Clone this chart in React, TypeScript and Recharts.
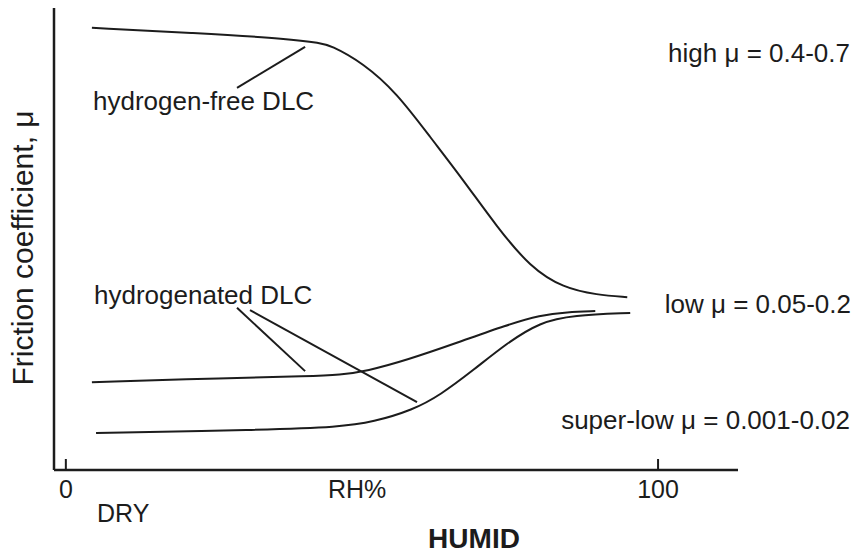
import React from 'react';
import { LineChart, Line, XAxis, YAxis, ReferenceLine } from 'recharts';

// Friction coefficient vs relative humidity (schematic, arbitrary μ scale 0-100)
const hFreeRH = [4.4, 21.5, 38.3, 42.9, 44.6, 50.2, 55.9, 61.5, 67.1, 72.8, 78.4, 84.0, 89.7, 94.8];
const hFreeMu = [95.7, 94.6, 93.3, 92.4, 92.0, 88.1, 81.6, 72.1, 62.8, 52.6, 43.9, 39.4, 37.9, 37.4];

const hydUpperRH = [4.4, 27.2, 41.2, 46.3, 50.8, 57.6, 66.0, 74.5, 80.1, 84.6, 89.4];
const hydUpperMu = [19.0, 19.9, 20.3, 20.6, 21.4, 23.8, 27.5, 31.4, 33.5, 34.2, 34.4];

const hydLowerRH = [5.1, 32.8, 46.3, 51.9, 58.6, 63.2, 68.8, 74.5, 80.1, 85.6, 95.3];
const hydLowerMu = [8.0, 8.7, 9.3, 10.4, 13.0, 16.2, 21.6, 27.5, 32.0, 33.5, 34.0];

const xTicks = [0, 100];

// leader lines from labels to curves, in data coordinates
const leaders = [
  [{ x: 28.9, y: 82.7 }, { x: 40.4, y: 91.6 }],
  [{ x: 28.9, y: 35.1 }, { x: 40.4, y: 21.4 }],
  [{ x: 31.1, y: 34.6 }, { x: 59.3, y: 14.7 }],
];

const toPoints = (xs: number[], ys: number[]) => xs.map((x, i) => ({ rh: x, mu: ys[i] }));

const FONT = '"Liberation Sans", Arial, Helvetica, sans-serif';
const INK = '#1c1c1c';

const AxisTick = (props: any) => {
  const { x, y, payload } = props;
  return (
    <g>
      <line x1={x} x2={x} y1={y - 11} y2={y} stroke={INK} strokeWidth={2} />
      <text x={x} y={y + 28} textAnchor="middle" fontSize={25} fontFamily={FONT} fill={INK}>
        {payload.value}
      </text>
    </g>
  );
};

export default function App() {
  const series = [
    { key: 'hfree', data: toPoints(hFreeRH, hFreeMu) },
    { key: 'hydUpper', data: toPoints(hydUpperRH, hydUpperMu) },
    { key: 'hydLower', data: toPoints(hydLowerRH, hydLowerMu) },
  ];

  return (
    <div style={{ position: 'absolute', left: 0, top: 0, width: 856, height: 553, background: '#fff' }}>
      <LineChart width={856} height={553} margin={{ top: 8, right: 118, left: 53, bottom: 82 }}>
        <XAxis
          type="number"
          dataKey="rh"
          domain={[-2, 113.5]}
          ticks={xTicks}
          allowDataOverflow
          height={1}
          tickSize={0}
          tickMargin={0}
          tick={<AxisTick />}
          axisLine={{ stroke: INK, strokeWidth: 2.5 }}
        />
        <YAxis
          type="number"
          dataKey="mu"
          domain={[0, 100]}
          width={1}
          tick={false}
          tickLine={false}
          axisLine={{ stroke: INK, strokeWidth: 2.5 }}
        />
        {series.map((s) => (
          <Line
            key={s.key}
            data={s.data}
            dataKey="mu"
            type="basis"
            stroke={INK}
            strokeWidth={2}
            dot={false}
            isAnimationActive={false}
          />
        ))}
        {leaders.map((seg, i) => (
          <ReferenceLine key={i} segment={seg} stroke={INK} strokeWidth={2} />
        ))}
      </LineChart>
      <svg
        width={856}
        height={553}
        style={{ position: 'absolute', left: 0, top: 0, pointerEvents: 'none' }}
        fontFamily={FONT}
        fill={INK}
      >
        <text transform="translate(33,248) rotate(-90)" textAnchor="middle" fontSize={30}>
          Friction coefficient, μ
        </text>
        <text x={93} y={110} fontSize={26}>hydrogen-free DLC</text>
        <text x={94} y={304} fontSize={26}>hydrogenated DLC</text>
        <text x={850} y={62} fontSize={26} textAnchor="end">high μ = 0.4-0.7</text>
        <text x={851} y={313} fontSize={26} textAnchor="end">low μ = 0.05-0.2</text>
        <text x={850} y={429} fontSize={26} textAnchor="end">super-low μ = 0.001-0.02</text>
        <text x={97} y={522} fontSize={25}>DRY</text>
        <text x={328} y={498} fontSize={25}>RH%</text>
        <text x={474} y={548} fontSize={28} fontWeight="bold" textAnchor="middle">HUMID</text>
      </svg>
    </div>
  );
}
